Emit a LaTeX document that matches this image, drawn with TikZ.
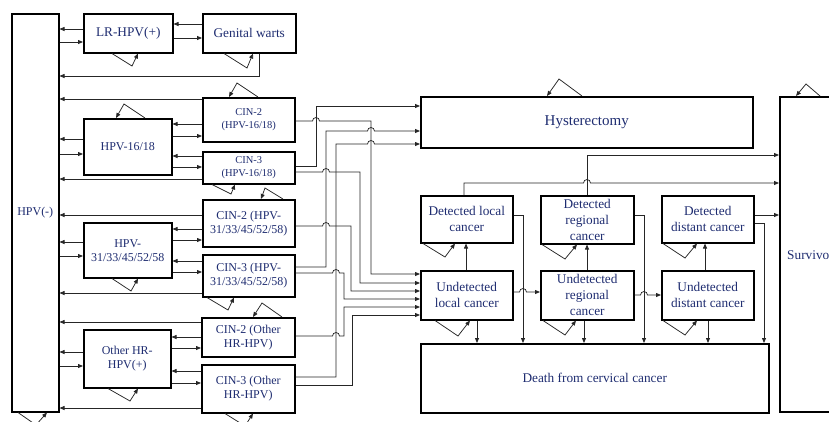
\documentclass[tikz,border=0pt]{standalone}
\usepackage{fontspec}
\setmainfont{Liberation Serif}
\usetikzlibrary{arrows.meta}
\definecolor{txt}{RGB}{30,44,112}
\begin{document}
\begin{tikzpicture}[x=1pt,y=-1pt,
 box/.style={draw=black, line width=1.5pt, anchor=north west, inner sep=0pt, align=center, text=txt, font=\fontsize{13.3}{16}\selectfont},
 fs/.style={font=\fontsize{12}{14}\selectfont},
 fxs/.style={font=\fontsize{10.5}{13.5}\selectfont},
 fl/.style={font=\fontsize{15}{18}\selectfont},
 conn/.style={draw=black!85, line width=0.75pt},
 arr/.style={conn, -{Triangle[length=5pt,width=4pt]}},
]
\useasboundingbox (0,0) rectangle (829,421);
\clip (0,0) rectangle (829,421);

% boxes
\node[box,fs,minimum width=47pt,minimum height=398pt] (neg) at (11,13) {HPV(-)};
\node[box,minimum width=89pt,minimum height=39pt] (lr) at (83,13) {LR-HPV(+)};
\node[box,minimum width=93pt,minimum height=39pt] (gw) at (202,13) {Genital warts};
\node[box,fs,minimum width=88pt,minimum height=56pt] (h16) at (83,118) {HPV-16/18};
\node[box,fxs,minimum width=92pt,minimum height=44pt] (c2a) at (202,97) {CIN-2\\(HPV-16/18)};
\node[box,fxs,minimum width=92pt,minimum height=32pt] (c3a) at (202,151) {CIN-3\\(HPV-16/18)};
\node[box,fs,minimum width=88pt,minimum height=55pt] (h31) at (83,222) {HPV-\\31/33/45/52/58};
\node[box,fs,minimum width=92pt,minimum height=47pt] (c2b) at (202,199) {CIN-2 (HPV-\\31/33/45/52/58)};
\node[box,fs,minimum width=92pt,minimum height=42pt] (c3b) at (202,254) {CIN-3 (HPV-\\31/33/45/52/58)};
\node[box,fs,minimum width=87pt,minimum height=58pt] (hoth) at (83,329) {Other HR-\\HPV(+)};
\node[box,fs,minimum width=93pt,minimum height=39pt] (c2c) at (201,317) {CIN-2 (Other\\HR-HPV)};
\node[box,fs,minimum width=93pt,minimum height=48pt] (c3c) at (201,364) {CIN-3 (Other\\HR-HPV)};
\node[box,fl,minimum width=332pt,minimum height=51pt] (hyst) at (420,96) {Hysterectomy};
\node[box,minimum width=100pt,minimum height=315pt] (surv) at (779,96) {};
\node[text=txt,font=\fontsize{13.3}{16}\selectfont,anchor=west,inner sep=0pt] (survt) at (787,255) {Survivo};
\node[box,minimum width=92pt,minimum height=47pt] (dlc) at (420,195) {Detected local\\cancer};
\node[box,minimum width=92pt,minimum height=49pt] (ulc) at (420,270) {Undetected\\local cancer};
\node[box,minimum width=93pt,minimum height=48pt] (drc) at (540,195) {Detected\\regional\\cancer};
\node[box,minimum width=93pt,minimum height=49pt] (urc) at (540,270) {Undetected\\regional\\cancer};
\node[box,minimum width=92pt,minimum height=47pt] (ddc) at (661,195) {Detected\\distant cancer};
\node[box,minimum width=92pt,minimum height=49pt] (udc) at (661,270) {Undetected\\distant cancer};
\node[box,minimum width=348pt,minimum height=69pt] (death) at (420,343) {Death from cervical cancer};

% left part
\draw[arr] (lr.west |- 0,29) -- (neg.east |- 0,29);
\draw[arr] (neg.east |- 0,42) -- (lr.west |- 0,42);
\draw[arr] (gw.west |- 0,24) -- (lr.east |- 0,24);
\draw[arr] (lr.east |- 0,38) -- (gw.west |- 0,38);
\draw[arr] (lr.south -| 112,0) -- (132,66) -- (lr.south -| 138,0);
\draw[arr] (gw.south -| 224,0) -- (247,68) -- (gw.south -| 253,0);
\draw[arr] (gw.south -| 259,0) -- (259,76) -- (neg.east |- 0,76);
\draw[arr] (c2a.west |- 0,99) -- (neg.east |- 0,99);
\draw[arr] (c2a.north -| 258,0) -- (237,83) -- (c2a.north -| 229,0);
\draw[arr] (h16.north -| 145,0) -- (124,104) -- (h16.north -| 116,0);
\draw[arr] (c2a.west |- 0,124) -- (h16.east |- 0,124);
\draw[arr] (h16.east |- 0,136) -- (c2a.west |- 0,136);
\draw[arr] (h16.west |- 0,139) -- (neg.east |- 0,139);
\draw[arr] (neg.east |- 0,154) -- (h16.west |- 0,154);
\draw[arr] (c3a.west |- 0,156) -- (h16.east |- 0,156);
\draw[arr] (h16.east |- 0,167) -- (c3a.west |- 0,167);
\draw[arr] (c3a.west |- 0,179) -- (neg.east |- 0,179);
\draw[arr] (c3a.south -| 212,0) -- (231,194) -- (c3a.south -| 235,0);
\draw[arr] (c2b.north -| 283,0) -- (265,188) -- (c2b.north -| 261,0);
\draw[arr] (c2b.west |- 0,215) -- (neg.east |- 0,215);
\draw[arr] (c2b.west |- 0,229) -- (h31.east |- 0,229);
\draw[arr] (h31.east |- 0,240) -- (c2b.west |- 0,240);
\draw[arr] (h31.west |- 0,242) -- (neg.east |- 0,242);
\draw[arr] (neg.east |- 0,256) -- (h31.west |- 0,256);
\draw[arr] (c3b.west |- 0,261) -- (h31.east |- 0,261);
\draw[arr] (h31.east |- 0,272) -- (c3b.west |- 0,272);
\draw[arr] (h31.south -| 112,0) -- (131,291) -- (h31.south -| 138,0);
\draw[arr] (c3b.west |- 0,293) -- (neg.east |- 0,293);
\draw[arr] (c3b.south -| 207,0) -- (228,310) -- (c3b.south -| 234,0);
\draw[arr] (c2c.north -| 282,0) -- (262,303) -- (c2c.north -| 253,0);
\draw[arr] (c2c.west |- 0,322) -- (neg.east |- 0,322);
\draw[arr] (c2c.west |- 0,337) -- (hoth.east |- 0,337);
\draw[arr] (hoth.east |- 0,348) -- (c2c.west |- 0,348);
\draw[arr] (hoth.west |- 0,352) -- (neg.east |- 0,352);
\draw[arr] (neg.east |- 0,366) -- (hoth.west |- 0,366);
\draw[arr] (c3c.west |- 0,371) -- (hoth.east |- 0,371);
\draw[arr] (hoth.east |- 0,383) -- (c3c.west |- 0,383);
\draw[arr] (hoth.south -| 108,0) -- (130,401) -- (hoth.south -| 138,0);
\draw[arr] (c3c.west |- 0,408) -- (neg.east |- 0,408);
\draw[arr] (c3c.south -| 225,0) -- (245,426) -- (c3c.south -| 253,0);
\draw[arr] (neg.south -| 18,0) -- (36,425) -- (neg.south -| 47,0);

% middle routing
\draw[arr] (c2a.east |- 0,121) -- (312.5,121) arc[start angle=180,end angle=0,radius=3.5pt] -- (371,121) -- (371,274) -- (ulc.west |- 0,274);
\draw[arr] (c3a.east |- 0,166) -- (316,166) -- (316,106) -- (hyst.west |- 0,106);
\draw[arr] (c3a.east |- 0,172) -- (322.5,172) arc[start angle=180,end angle=0,radius=3.5pt] -- (360,172) -- (360,283) -- (ulc.west |- 0,283);
\draw[arr] (c3b.east |- 0,267) -- (326,267) -- (326,131) -- (367.5,131) arc[start angle=180,end angle=0,radius=3.5pt] -- (hyst.west |- 0,131);
\draw[arr] (c3c.east |- 0,377) -- (336,377) -- (336,144) -- (367.5,144) arc[start angle=180,end angle=0,radius=3.5pt] -- (hyst.west |- 0,144);
\draw[arr] (c2b.east |- 0,226) -- (322.5,226) arc[start angle=180,end angle=0,radius=3.5pt] -- (351,226) -- (351,291) -- (ulc.west |- 0,291);
\draw[arr] (c3b.east |- 0,273) -- (332.5,273) arc[start angle=180,end angle=0,radius=3.5pt] -- (344,273) -- (344,299) -- (ulc.west |- 0,299);
\draw[arr] (c2c.east |- 0,336) -- (332.5,336) arc[start angle=180,end angle=0,radius=3.5pt] -- (344,336) -- (344,307) -- (ulc.west |- 0,307);
\draw[arr] (c3c.east |- 0,385) -- (352,385) -- (352,315) -- (ulc.west |- 0,315);

% right part
\draw[arr] (dlc.north -| 464,0) -- (464,183) -- (583.5,183) arc[start angle=180,end angle=0,radius=3.5pt] -- (surv.west |- 0,183);
\draw[arr] (drc.north -| 587,0) -- (587,155) -- (surv.west |- 0,155);
\draw[arr] (ddc.east |- 0,215) -- (surv.west |- 0,215);
\draw[arr] (dlc.east |- 0,215) -- (523,215) -- (death.north -| 523,0);
\draw[arr] (drc.east |- 0,215) -- (644,215) -- (death.north -| 644,0);
\draw[arr] (ddc.east |- 0,223) -- (764,223) -- (death.north -| 764,0);
\draw[arr] (ulc.north -| 466,0) -- (dlc.south -| 466,0);
\draw[arr] (urc.north -| 587,0) -- (drc.south -| 587,0);
\draw[arr] (udc.north -| 705,0) -- (ddc.south -| 705,0);
\draw[arr] (ulc.south -| 477,0) -- (death.north -| 477,0);
\draw[arr] (urc.south -| 584,0) -- (death.north -| 584,0);
\draw[arr] (udc.south -| 708,0) -- (death.north -| 708,0);
\draw[arr] (ulc.east |- 0,292) -- (519.5,292) arc[start angle=180,end angle=0,radius=3.5pt] -- (urc.west |- 0,292);
\draw[arr] (urc.east |- 0,295) -- (640.5,295) arc[start angle=180,end angle=0,radius=3.5pt] -- (udc.west |- 0,295);
\draw[arr] (dlc.south -| 423,0) -- (445,257) -- (dlc.south -| 455,0);
\draw[arr] (ulc.south -| 435,0) -- (458,336) -- (ulc.south -| 470,0);
\draw[arr] (drc.south -| 542,0) -- (565,259) -- (drc.south -| 577,0);
\draw[arr] (urc.south -| 543,0) -- (565,335) -- (urc.south -| 576,0);
\draw[arr] (ddc.south -| 663,0) -- (685,258) -- (ddc.south -| 697,0);
\draw[arr] (udc.south -| 663,0) -- (685,335) -- (udc.south -| 697,0);
\draw[arr] (hyst.north -| 582,0) -- (559,79) -- (hyst.north -| 547,0);
\draw[arr] (surv.north -| 820,0) -- (806,84) -- (surv.north -| 796,0);
\end{tikzpicture}
\end{document}
